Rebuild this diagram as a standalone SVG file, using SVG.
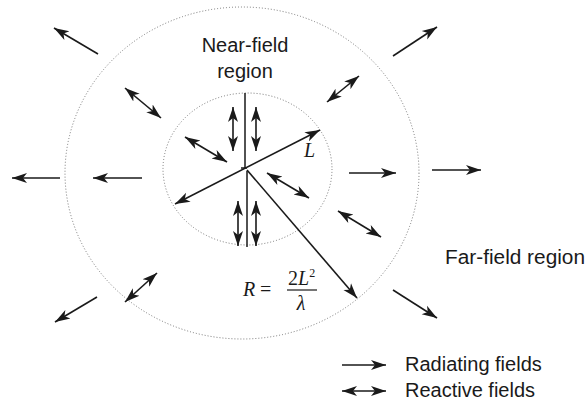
<svg xmlns="http://www.w3.org/2000/svg" width="586" height="402" viewBox="0 0 586 402">
<defs>
<marker id="ah" viewBox="0 -6 16 12" refX="15" refY="0" markerWidth="16" markerHeight="12" markerUnits="userSpaceOnUse" orient="auto-start-reverse">
<path d="M0,-5 L15,0 L0,5 L4,0 z" fill="#1a1a1a"/>
</marker>
</defs>
<style>
.bd{fill:none;stroke:#777;stroke-width:1;stroke-dasharray:1 2}
.ln{fill:none;stroke:#1a1a1a;stroke-width:1.5}
.rad{fill:none;stroke:#1a1a1a;stroke-width:1.6;marker-end:url(#ah)}
.rea{fill:none;stroke:#1a1a1a;stroke-width:1.6;marker-end:url(#ah);marker-start:url(#ah)}
.t{font-family:"Liberation Sans",Arial,sans-serif;font-size:20px;fill:#1a1a1a}
.m{font-family:"Liberation Serif","Times New Roman",serif;font-size:20px;fill:#1a1a1a}
</style>
<rect width="586" height="402" fill="#fff"/>
<g id="far-boundary"><ellipse class="bd" cx="242" cy="173" rx="177" ry="166"/></g>
<g id="near-boundary"><ellipse class="bd" cx="247.5" cy="169" rx="84.5" ry="76"/></g>
<g id="antenna">
<path class="ln" d="M245,93 V168 M241,168 H247 M247,171 V247"/>
</g>
<g id="labels">
<text class="t" x="245" y="52" text-anchor="middle">Near-field</text>
<text class="t" x="245" y="78" text-anchor="middle">region</text>
<text class="t" x="445" y="264" textLength="140" lengthAdjust="spacingAndGlyphs">Far-field region</text>
<text class="m" x="304" y="157" font-style="italic">L</text>
<text class="m" x="243" y="296" font-style="italic">R</text>
<text class="m" x="260" y="296">=</text>
<text class="m" x="288" y="285">2<tspan font-style="italic">L</tspan><tspan font-size="12" dy="-8">2</tspan></text>
<line x1="287" y1="290" x2="317" y2="290" stroke="#1a1a1a" stroke-width="1.2"/>
<text class="m" x="301" y="310" text-anchor="middle" font-style="italic">λ</text>
</g>
<g id="legend">
<line class="rad" x1="342" y1="365" x2="386" y2="365"/>
<text class="t" x="405" y="371">Radiating fields</text>
<line class="rea" x1="342" y1="391" x2="386" y2="391"/>
<text class="t" x="405" y="397">Reactive fields</text>
</g>
<g id="connectors">
<line class="rea" x1="175" y1="204" x2="320" y2="130"/>
<line class="rad" x1="247" y1="170" x2="357" y2="298"/>
<line class="rad" x1="98" y1="54" x2="54" y2="28"/>
<line class="rad" x1="393" y1="56" x2="437" y2="27"/>
<line class="rad" x1="60" y1="178" x2="12" y2="178"/>
<line class="rad" x1="432" y1="170" x2="481" y2="170"/>
<line class="rad" x1="97" y1="297" x2="55" y2="322"/>
<line class="rad" x1="393" y1="290" x2="437" y2="318"/>
<line class="rad" x1="142" y1="178" x2="93" y2="178"/>
<line class="rad" x1="349" y1="173" x2="396" y2="173"/>
<line class="rea" x1="125" y1="88" x2="161" y2="118"/>
<line class="rea" x1="327" y1="102" x2="359" y2="76"/>
<line class="rea" x1="185" y1="137" x2="227" y2="162"/>
<line class="rea" x1="233" y1="107" x2="233" y2="151"/>
<line class="rea" x1="256" y1="107" x2="256" y2="151"/>
<line class="rea" x1="238" y1="201" x2="238" y2="246"/>
<line class="rea" x1="256" y1="201" x2="256" y2="246"/>
<line class="rea" x1="267" y1="173" x2="309" y2="198"/>
<line class="rea" x1="338" y1="211" x2="381" y2="237"/>
<line class="rea" x1="125" y1="302" x2="157" y2="273"/>
</g>
</svg>
